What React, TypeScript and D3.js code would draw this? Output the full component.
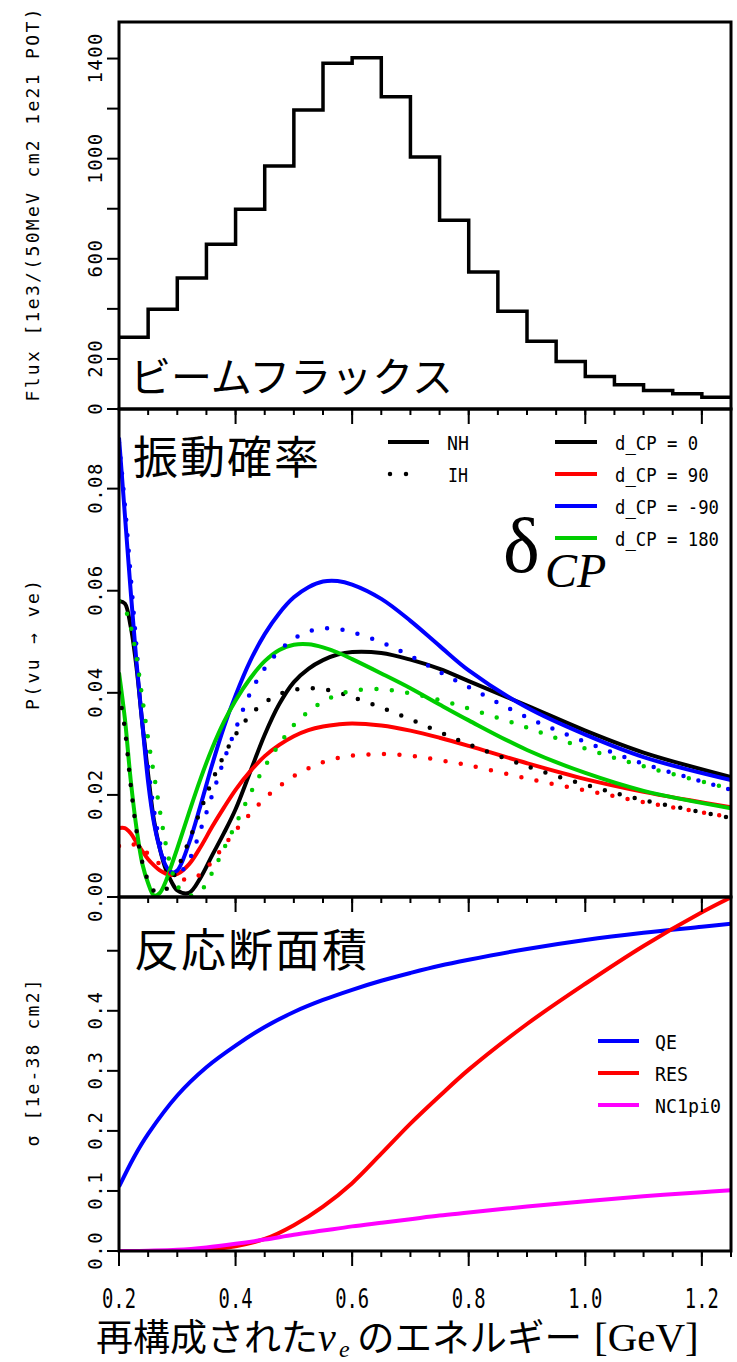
import React from "react";
import * as d3 from "d3";

// ---- data ----
const fluxBinEdges = [0.2, 0.25, 0.3, 0.35, 0.4, 0.45, 0.5, 0.55, 0.6, 0.65, 0.7, 0.75, 0.8, 0.85, 0.9, 0.95, 1.0, 1.05, 1.1, 1.15, 1.2, 1.25];
const fluxValues = [287, 398, 523, 658, 798, 971, 1194, 1381, 1403, 1247, 1007, 754, 547, 390, 271, 190, 130, 97, 74, 61, 47];

const energy = [0.2, 0.21, 0.22, 0.23, 0.24, 0.25, 0.26, 0.27, 0.28, 0.29, 0.3, 0.32, 0.34, 0.36, 0.38, 0.4, 0.425, 0.45, 0.475, 0.5, 0.525, 0.55, 0.575, 0.6, 0.65, 0.7, 0.75, 0.8, 0.9, 1.0, 1.1, 1.25];
const nhCP0 = [0.058, 0.0575, 0.053, 0.045, 0.034, 0.024, 0.015, 0.0095, 0.0055, 0.003, 0.0013, 0.0008, 0.0038, 0.0082, 0.0125, 0.0172, 0.0245, 0.0318, 0.0378, 0.0421, 0.0447, 0.0464, 0.0475, 0.048, 0.0478, 0.0465, 0.0447, 0.0423, 0.0375, 0.0326, 0.0283, 0.0235];
const nhCP90 = [0.0135, 0.0135, 0.0125, 0.0107, 0.009, 0.0074, 0.0062, 0.0052, 0.0046, 0.0043, 0.0045, 0.0064, 0.0098, 0.0138, 0.0175, 0.021, 0.0246, 0.0276, 0.0298, 0.0315, 0.0327, 0.0334, 0.0338, 0.034, 0.0336, 0.0326, 0.0312, 0.0296, 0.0262, 0.0231, 0.0206, 0.0176];
const nhCPm90 = [0.09, 0.075, 0.06, 0.046, 0.034, 0.0225, 0.0145, 0.0095, 0.0062, 0.0048, 0.0052, 0.0105, 0.018, 0.026, 0.0333, 0.0395, 0.0462, 0.0515, 0.0556, 0.0587, 0.0607, 0.0618, 0.0619, 0.0612, 0.0584, 0.0541, 0.0492, 0.0444, 0.0371, 0.0318, 0.0274, 0.0229];
const nhCP180 = [0.044, 0.035, 0.023, 0.0135, 0.0065, 0.0027, 0.0003, 0.0008, 0.003, 0.0062, 0.0095, 0.0165, 0.0232, 0.0292, 0.0343, 0.0385, 0.0428, 0.0462, 0.0484, 0.0494, 0.0495, 0.0489, 0.0479, 0.0466, 0.0438, 0.0409, 0.0377, 0.0346, 0.0288, 0.0243, 0.0208, 0.0174];
const ihCP0 = [0.04, 0.033, 0.022, 0.013, 0.0068, 0.0032, 0.0012, 0.0008, 0.0014, 0.0032, 0.0055, 0.011, 0.017, 0.0228, 0.0277, 0.0318, 0.0356, 0.0381, 0.0397, 0.0406, 0.0409, 0.0407, 0.0401, 0.0392, 0.0371, 0.0348, 0.0323, 0.0299, 0.0256, 0.022, 0.019, 0.0155];
const ihCP90 = [0.01, 0.0105, 0.0105, 0.01, 0.0093, 0.0085, 0.0075, 0.0064, 0.0053, 0.0044, 0.0038, 0.0034, 0.0045, 0.007, 0.01, 0.013, 0.0163, 0.0193, 0.0217, 0.0237, 0.0252, 0.0264, 0.0272, 0.0277, 0.028, 0.0277, 0.0268, 0.0258, 0.0232, 0.0209, 0.0186, 0.0156];
const ihCPm90 = [0.089, 0.077, 0.063, 0.049, 0.036, 0.0255, 0.017, 0.0108, 0.0068, 0.0048, 0.0043, 0.0072, 0.0132, 0.02, 0.0268, 0.0329, 0.0399, 0.0448, 0.0482, 0.0506, 0.052, 0.0526, 0.0525, 0.0519, 0.0499, 0.0472, 0.0441, 0.0411, 0.0352, 0.0304, 0.0261, 0.021];
const ihCP180 = [0.058, 0.0565, 0.053, 0.047, 0.039, 0.031, 0.024, 0.017, 0.0105, 0.0055, 0.0022, 0.0003, 0.0012, 0.0048, 0.0095, 0.0142, 0.0202, 0.0255, 0.0299, 0.0337, 0.0363, 0.0383, 0.0396, 0.0404, 0.0407, 0.0399, 0.0386, 0.0369, 0.0332, 0.0291, 0.0256, 0.0212];

const xsecEnergy = [0.2, 0.225, 0.25, 0.3, 0.35, 0.4, 0.45, 0.5, 0.55, 0.6, 0.65, 0.7, 0.75, 0.8, 0.9, 1.0, 1.1, 1.2, 1.25];
const qeXsec = [0.107, 0.155, 0.195, 0.259, 0.306, 0.342, 0.373, 0.398, 0.418, 0.435, 0.45, 0.463, 0.475, 0.485, 0.503, 0.518, 0.53, 0.54, 0.545];
const resXsec = [0, 0, 0, 0.0005, 0.002, 0.008, 0.02, 0.043, 0.074, 0.113, 0.162, 0.212, 0.258, 0.302, 0.378, 0.445, 0.508, 0.564, 0.589];
const nc1pi0Xsec = [0, 0, 0.0005, 0.002, 0.006, 0.012, 0.019, 0.027, 0.034, 0.041, 0.047, 0.053, 0.059, 0.064, 0.074, 0.083, 0.091, 0.098, 0.101];

const xMajorTicks = [0.2, 0.4, 0.6, 0.8, 1.0, 1.2];
const xMinorTicks = [0.2, 0.25, 0.3, 0.35, 0.4, 0.45, 0.5, 0.55, 0.6, 0.65, 0.7, 0.75, 0.8, 0.85, 0.9, 0.95, 1.0, 1.05, 1.1, 1.15, 1.2, 1.25];
const xTickLabels = ["0.2", "0.4", "0.6", "0.8", "1.0", "1.2"];
const fluxTicks = [0, 200, 400, 600, 800, 1000, 1200, 1400];
const fluxTickLabels = [[0, "0"], [200, "200"], [600, "600"], [1000, "1000"], [1400, "1400"]];
const probTicks = [0, 0.02, 0.04, 0.06, 0.08];
const probTickLabels = ["0.00", "0.02", "0.04", "0.06", "0.08"];
const xsecTicks = [0, 0.1, 0.2, 0.3, 0.4, 0.5];
const xsecTickLabels = ["0.0", "0.1", "0.2", "0.3", "0.4"];

const cpLegend = ["d_CP = 0", "d_CP = 90", "d_CP = -90", "d_CP = 180"];
const xsecLegend = ["QE", "RES", "NC1pi0"];

// ---- layout ----
const left = 119;
const right = 731;
const fluxTop = 22, fluxBottom = 409;
const probBottom = 897;
const xsecBottom = 1251;

const MONO = "'DejaVu Sans Mono', monospace";
const JP = "'Noto Sans CJK JP', sans-serif";
const SERIF = "'Liberation Serif', 'DejaVu Serif', serif";

const colors = { black: "#000000", red: "#ff0000", blue: "#0000ff", green: "#00cd00", magenta: "#ff00ff" };

export default function App() {
  const x = d3.scaleLinear().domain([0.2, 1.25]).range([left, right]);
  const yFlux = d3.scaleLinear().domain([0, 1546]).range([fluxBottom, fluxTop]);
  const yProb = d3.scaleLinear().domain([0, 0.0956]).range([probBottom, fluxBottom]);
  const yXsec = d3.scaleLinear().domain([0, 0.5895]).range([xsecBottom, probBottom]);

  const histPts: [number, number][] = fluxValues.map((v, i) => [x(fluxBinEdges[i]), yFlux(v)]);
  histPts.push([x(fluxBinEdges[fluxBinEdges.length - 1]), yFlux(fluxValues[fluxValues.length - 1])]);
  const histPath = d3.line().curve(d3.curveStepAfter)(histPts) || "";

  const probLine = d3.line<number>()
    .x((_, i) => x(energy[i]))
    .y((d) => yProb(d))
    .curve(d3.curveCatmullRom.alpha(0.5));
  const xsecLine = d3.line<number>()
    .x((_, i) => x(xsecEnergy[i]))
    .y((d) => yXsec(d))
    .curve(d3.curveCatmullRom.alpha(0.5));

  const nhSeries = [
    { v: nhCP0, c: colors.black },
    { v: nhCP90, c: colors.red },
    { v: nhCPm90, c: colors.blue },
    { v: nhCP180, c: colors.green },
  ];
  const ihSeries = [
    { v: ihCP0, c: colors.black },
    { v: ihCP90, c: colors.red },
    { v: ihCPm90, c: colors.blue },
    { v: ihCP180, c: colors.green },
  ];
  const xsecSeries = [
    { v: qeXsec, c: colors.blue },
    { v: resXsec, c: colors.red },
    { v: nc1pi0Xsec, c: colors.magenta },
  ];
  const cpColors = [colors.black, colors.red, colors.blue, colors.green];
  const xsecColors = [colors.blue, colors.red, colors.magenta];

  const xTicks = (yb: number) => (
    <g>
      {xMinorTicks.map((t) => (
        <line key={"m" + t} x1={x(t)} x2={x(t)} y1={yb} y2={yb + 6} stroke="#000" strokeWidth={2} />
      ))}
      {xMajorTicks.map((t) => (
        <line key={"M" + t} x1={x(t)} x2={x(t)} y1={yb} y2={yb + 15} stroke="#000" strokeWidth={2} />
      ))}
    </g>
  );

  const yLabel = (y: number, label: string, key: string) => (
    <text key={key} transform={`translate(102,${y}) rotate(-90)`} textAnchor="middle"
      fontFamily={MONO} fontSize={19} textLength={label.length * 12.5} lengthAdjust="spacing">{label}</text>
  );

  return (
    <svg width={737} height={1362} style={{ position: "absolute", left: 0, top: 0, background: "#fff" }}>
      <defs>
        <clipPath id="clipProb"><rect x={left} y={fluxBottom} width={right - left} height={probBottom - fluxBottom} /></clipPath>
        <clipPath id="clipXsec"><rect x={left} y={probBottom} width={right - left} height={xsecBottom - probBottom} /></clipPath>
      </defs>

      {/* flux panel */}
      <path d={histPath} fill="none" stroke="#000" strokeWidth={3.5} />
      <text x={130} y={392} fontFamily={JP} fontSize={41}>ビームフラックス</text>

      {/* oscillation panel */}
      <g clipPath="url(#clipProb)">
        {nhSeries.map((s, i) => (
          <path key={"nh" + i} d={probLine(s.v) || ""} fill="none" stroke={s.c} strokeWidth={4} />
        ))}
        {ihSeries.map((s, i) => (
          <path key={"ih" + i} d={probLine(s.v) || ""} fill="none" stroke={s.c} strokeWidth={4.5}
            strokeDasharray="0 15.5" strokeLinecap="round" />
        ))}
      </g>
      <text x={133} y={474} fontFamily={JP} fontSize={45} letterSpacing={2}>振動確率</text>
      <line x1={388} x2={429} y1={442} y2={442} stroke="#000" strokeWidth={4} />
      <text x={447} y={449.5} fontFamily={MONO} fontSize={20} textLength={22} lengthAdjust="spacingAndGlyphs">NH</text>
      <line x1={390} x2={422} y1={474} y2={474} stroke="#000" strokeWidth={4.5} strokeDasharray="0 16" strokeLinecap="round" />
      <text x={448} y={481.5} fontFamily={MONO} fontSize={20} textLength={20} lengthAdjust="spacingAndGlyphs">IH</text>
      {cpLegend.map((t, i) => {
        const ly = 442 + i * 32;
        return (
          <g key={t}>
            <line x1={555} x2={597} y1={ly} y2={ly} stroke={cpColors[i]} strokeWidth={4} />
            <text x={615} y={ly + 7.5} fontFamily={MONO} fontSize={20} textLength={t.length * 10.4}
              lengthAdjust="spacingAndGlyphs">{t}</text>
          </g>
        );
      })}
      <text x={503} y={572} fontFamily={SERIF} fontSize={78}>δ</text>
      <text x={545} y={587} fontFamily={SERIF} fontSize={48} fontStyle="italic">CP</text>

      {/* cross-section panel */}
      <g clipPath="url(#clipXsec)">
        {xsecSeries.map((s, i) => (
          <path key={"xs" + i} d={xsecLine(s.v) || ""} fill="none" stroke={s.c} strokeWidth={4} />
        ))}
      </g>
      <text x={134} y={967} fontFamily={JP} fontSize={45} letterSpacing={2}>反応断面積</text>
      {xsecLegend.map((t, i) => {
        const ly = 1041 + i * 32;
        return (
          <g key={t}>
            <line x1={598} x2={639} y1={ly} y2={ly} stroke={xsecColors[i]} strokeWidth={4} />
            <text x={655} y={ly + 7.5} fontFamily={MONO} fontSize={20} textLength={t.length * 11}
              lengthAdjust="spacingAndGlyphs">{t}</text>
          </g>
        );
      })}

      {/* frames */}
      <rect x={left} y={fluxTop} width={right - left} height={fluxBottom - fluxTop} fill="none" stroke="#000" strokeWidth={3} />
      <rect x={left} y={fluxBottom} width={right - left} height={probBottom - fluxBottom} fill="none" stroke="#000" strokeWidth={3} />
      <rect x={left} y={probBottom} width={right - left} height={xsecBottom - probBottom} fill="none" stroke="#000" strokeWidth={3} />

      {/* x ticks under each panel */}
      {xTicks(fluxBottom)}
      {xTicks(probBottom)}
      {xTicks(xsecBottom)}
      {xMajorTicks.map((t, i) => (
        <text key={"xl" + t} x={x(t)} y={1308} textAnchor="middle" fontFamily={MONO} fontSize={27}
          textLength={34} lengthAdjust="spacingAndGlyphs">{xTickLabels[i]}</text>
      ))}

      {/* y axes */}
      {fluxTicks.map((t) => (
        <line key={"fy" + t} x1={107} x2={left} y1={yFlux(t)} y2={yFlux(t)} stroke="#000" strokeWidth={2} />
      ))}
      {fluxTickLabels.map(([v, l]) => yLabel(yFlux(v as number), l as string, "fl" + l))}
      {probTicks.map((t) => (
        <line key={"py" + t} x1={107} x2={left} y1={yProb(t)} y2={yProb(t)} stroke="#000" strokeWidth={2} />
      ))}
      {probTicks.map((t, i) => yLabel(yProb(t), probTickLabels[i], "pl" + i))}
      {xsecTicks.map((t) => (
        <line key={"sy" + t} x1={107} x2={left} y1={yXsec(t)} y2={yXsec(t)} stroke="#000" strokeWidth={2} />
      ))}
      {xsecTickLabels.map((l, i) => yLabel(yXsec(xsecTicks[i]), l, "sl" + i))}

      {/* axis titles */}
      <text transform="translate(39,205) rotate(-90)" textAnchor="middle" fontFamily={MONO} fontSize={18}
        textLength={393} lengthAdjust="spacing">Flux [1e3/(50MeV cm2 1e21 POT)</text>
      <text transform="translate(39,645) rotate(-90)" textAnchor="middle" fontFamily={MONO} fontSize={18}
        textLength={130} lengthAdjust="spacing">P(vu → ve)</text>
      <text transform="translate(39,1063) rotate(-90)" textAnchor="middle" fontFamily={MONO} fontSize={18}
        textLength={167} lengthAdjust="spacing">σ [1e-38 cm2]</text>

      <text x={96} y={1351} fontFamily={JP} fontSize={37}>再構成された</text>
      <text x={318} y={1351} fontFamily={SERIF} fontSize={40} fontStyle="italic">ν</text>
      <text x={339} y={1357} fontFamily={SERIF} fontSize={24} fontStyle="italic">e</text>
      <text x={357} y={1351} fontFamily={JP} fontSize={37.5}>のエネルギー</text>
      <text x={594} y={1351} fontFamily={SERIF} fontSize={41}>[GeV]</text>
    </svg>
  );
}
